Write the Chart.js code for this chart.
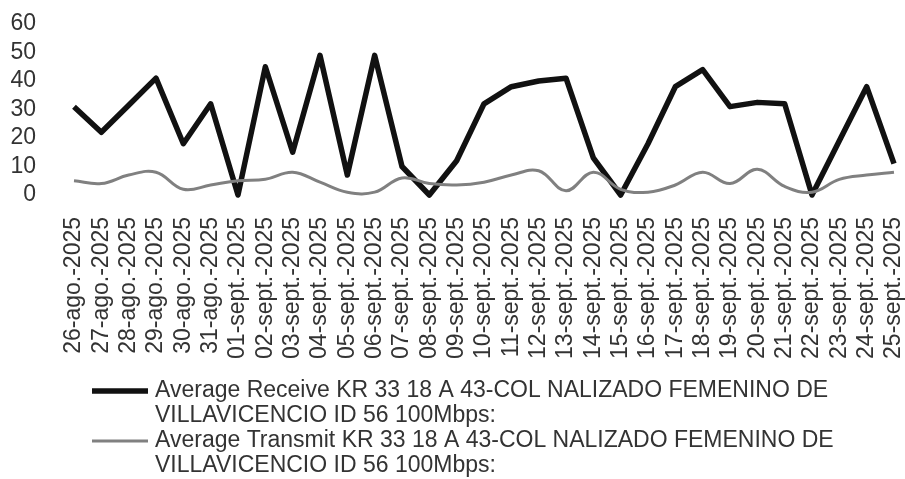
<!DOCTYPE html>
<html>
<head>
<meta charset="utf-8">
<script src="https://cdn.jsdelivr.net/npm/chart.js@4.4.1/dist/chart.umd.min.js"></script>
<style>
  html, body { margin: 0; padding: 0; background: #fff; }
  #wrap { width: 905px; height: 479px; }
</style>
</head>
<body>
<div id="wrap"><canvas id="myChart" width="905" height="479"></canvas></div>
<script>
// dates on the x axis
const dates = [
  '26-ago.-2025', '27-ago.-2025', '28-ago.-2025', '29-ago.-2025', '30-ago.-2025', '31-ago.-2025',
  '01-sept.-2025', '02-sept.-2025', '03-sept.-2025', '04-sept.-2025', '05-sept.-2025',
  '06-sept.-2025', '07-sept.-2025', '08-sept.-2025', '09-sept.-2025', '10-sept.-2025',
  '11-sept.-2025', '12-sept.-2025', '13-sept.-2025', '14-sept.-2025', '15-sept.-2025',
  '16-sept.-2025', '17-sept.-2025', '18-sept.-2025', '19-sept.-2025', '20-sept.-2025',
  '21-sept.-2025', '22-sept.-2025', '23-sept.-2025', '24-sept.-2025', '25-sept.-2025'
];

// Mbps
const receive = [31, 22, 31.5, 41, 18, 32, 0, 45, 15, 49, 7, 49, 10, 0, 12, 32,
  38, 40, 41, 13, 0, 18, 38, 44, 31, 32.5, 32, 0, 19, 38, 11];
const transmit = [5, 4, 7, 8, 2, 3.5, 5, 5.5, 8, 4.5, 1, 1, 6, 4, 3.5, 4.5,
  7, 8.5, 1.5, 8, 2, 1, 3.5, 8, 4, 9, 3, 1, 5.5, 7, 8];

const yTicks = [0, 10, 20, 30, 40, 50, 60];

const receiveLabel = ['Average Receive KR 33 18 A 43-COL NALIZADO FEMENINO DE', 'VILLAVICENCIO ID 56 100Mbps:'];
const transmitLabel = ['Average Transmit KR 33 18 A 43-COL NALIZADO FEMENINO DE', 'VILLAVICENCIO ID 56 100Mbps:'];

const FONT = '"Liberation Sans", Arial, sans-serif';
const textColor = '#333';

// legend with wrapped text, drawn under the axis
const wrapLegend = {
  id: 'wrapLegend',
  afterDraw(chart) {
    const ctx = chart.ctx;
    ctx.save();
    ctx.font = '23px ' + FONT;
    ctx.fillStyle = textColor;
    ctx.textBaseline = 'middle';
    ctx.textAlign = 'left';
    let y = 391;
    chart.data.datasets.forEach(ds => {
      ctx.beginPath();
      ctx.strokeStyle = ds.borderColor;
      ctx.lineWidth = ds.borderWidth;
      ctx.moveTo(92, y);
      ctx.lineTo(148, y);
      ctx.stroke();
      ds.legendText.forEach((line, i) => {
        ctx.fillText(line, 155, y + i * 24.5);
      });
      y += 50;
    });
    ctx.restore();
  }
};

const chartContext = document.getElementById('myChart').getContext('2d');
const myChart = new Chart(chartContext, {
  type: 'line',
  data: {
    labels: dates,
    datasets: [{
      label: receiveLabel.join(' '),
      legendText: receiveLabel,
      data: receive,
      borderColor: '#111',
      borderWidth: 5.5,
      borderJoinStyle: 'round',
      tension: 0,
      pointRadius: 0,
      clip: 6,
      order: 1
    }, {
      label: transmitLabel.join(' '),
      legendText: transmitLabel,
      data: transmit,
      borderColor: '#808080',
      borderWidth: 3,
      tension: 0.4,
      pointRadius: 0,
      clip: 6,
      order: 0
    }]
  },
  options: {
    responsive: false,
    animation: false,
    layout: { padding: { top: 24, left: 10, right: 11, bottom: 119 } },
    plugins: {
      legend: { display: false },
      tooltip: { enabled: false }
    },
    scales: {
      x: {
        offset: false,
        grid: { display: false, drawTicks: false },
        border: { display: false },
        ticks: {
          autoSkip: false,
          maxRotation: 90,
          minRotation: 90,
          padding: 22,
          color: textColor,
          font: { family: FONT, size: 23 }
        },
        afterFit(scale) {
          scale.paddingLeft = 0;
          scale.paddingRight = 0;
          scale.height = 165;
        }
      },
      y: {
        min: yTicks[0],
        max: yTicks[yTicks.length - 1],
        grid: { display: false, drawTicks: false },
        border: { display: false },
        afterBuildTicks(scale) {
          scale.ticks = yTicks.map(v => ({ value: v }));
        },
        afterFit(scale) {
          scale.paddingTop = 0;
          scale.paddingBottom = 0;
          scale.width = 64;
        },
        ticks: {
          autoSkip: false,
          padding: 38,
          color: textColor,
          font: { family: FONT, size: 23 }
        }
      }
    }
  },
  plugins: [wrapLegend]
});
</script>
</body>
</html>
